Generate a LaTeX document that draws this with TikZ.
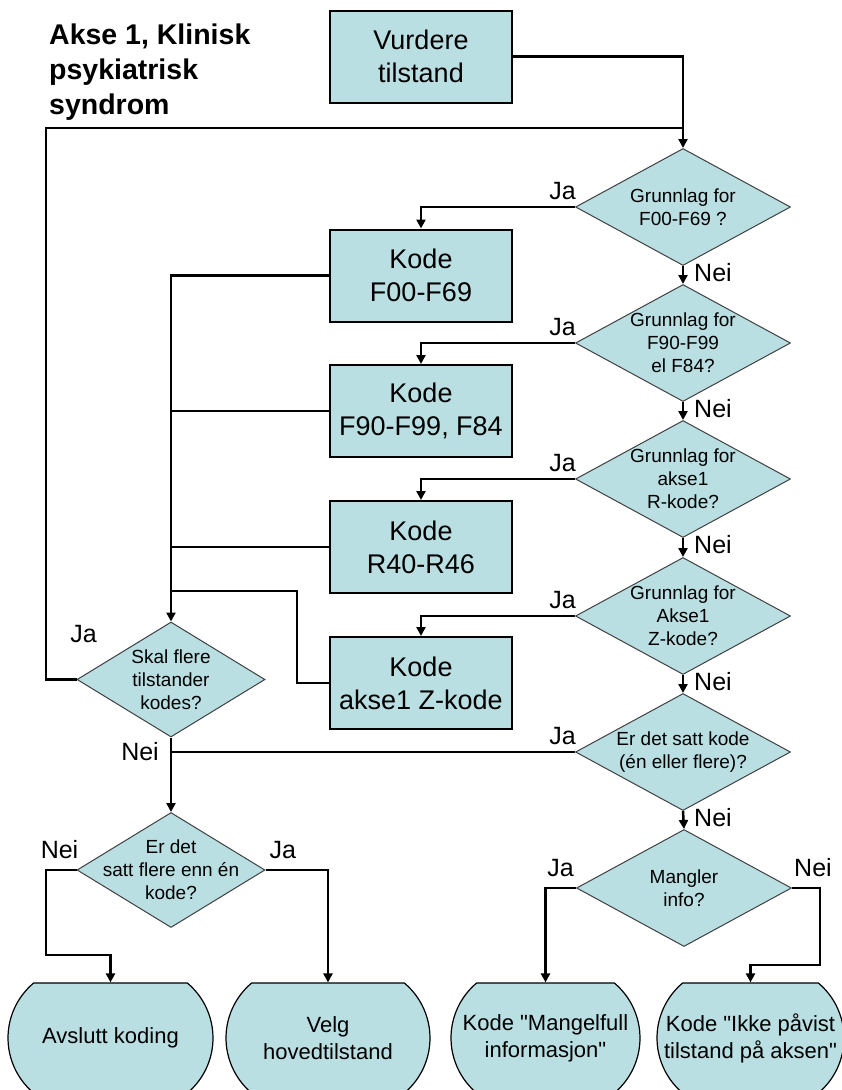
\documentclass[tikz,border=0pt]{standalone}
\usepackage{fontspec}
\setmainfont{Liberation Sans}
\usetikzlibrary{shapes.geometric,shapes.misc,arrows.meta}
\definecolor{boxfill}{RGB}{186,223,226}
\newcommand{\anf}{\XeTeXglyph\XeTeXcharglyph"22\relax}
\tikzset{
  kodebox/.style={draw, line width=2pt, fill=boxfill, minimum width=182pt, minimum height=92pt, inner sep=0pt, align=center, font=\fontsize{27}{33}\selectfont},
  sporsmaal/.style={diamond, draw=black!75, line width=1pt, fill=boxfill, minimum width=215pt, minimum height=117pt, shape aspect=1.84, inner sep=0pt, align=center, font=\fontsize{19}{23}\selectfont},
  slutt/.style={rounded rectangle, rounded rectangle arc length=100, draw, line width=1.2pt, fill=boxfill, minimum height=110pt, inner xsep=-22pt, inner ysep=0pt, align=center, font=\fontsize{22}{27}\selectfont},
  svar/.style={inner sep=2pt, font=\fontsize{25}{25}\selectfont},
  linje/.style={line width=2.5pt}
}
\begin{document}
\begin{tikzpicture}[x=1pt,y=-1pt,>={Triangle[length=9pt,width=9pt]}]
\useasboundingbox (0,0) rectangle (842,1090);
\node[anchor=north west, align=left, inner sep=2pt, font=\bfseries\fontsize{28.5}{35}\selectfont] (tittel) at (47,22) {Akse 1, Klinisk\\psykiatrisk\\syndrom};
\node[kodebox] (vurd) at (421,56.5) {Vurdere\\tilstand};
\node[kodebox] (kf00) at (421,275.5) {Kode\\F00-F69};
\node[kodebox] (kf90) at (421,411) {Kode\\F90-F99, F84};
\node[kodebox] (kr40) at (421,547) {Kode\\R40-R46};
\node[kodebox] (kz) at (421,683) {Kode\\akse1 Z-kode};
\node[sporsmaal] (d1) at (683,207) {Grunnlag for\\F00-F69 ?};
\node[sporsmaal, inner ysep=-4pt] (d2) at (683,343) {Grunnlag for\\F90-F99\\el F84?};
\node[sporsmaal, inner ysep=-4pt] (d3) at (683,479) {Grunnlag for\\akse1\\R-kode?};
\node[sporsmaal, inner ysep=-4pt] (d4) at (683,616) {Grunnlag for\\Akse1\\Z-kode?};
\node[sporsmaal] (d5) at (683,752) {Er det satt kode\\(én eller flere)?};
\node[sporsmaal] (d7) at (684,888) {Mangler\\info?};
\node[sporsmaal, minimum width=188pt, minimum height=115pt, shape aspect=1.63, inner ysep=-4pt] (dskal) at (171,679.5) {Skal flere\\tilstander\\kodes?};
\node[sporsmaal, minimum width=188pt, minimum height=115pt, shape aspect=1.63, inner xsep=-8pt, inner ysep=-12pt] (dflere) at (171,870) {Er det\\satt flere enn én\\kode?};
\node[slutt, minimum width=161pt] (t1) at (110.5,1038) {Avslutt koding};
\node[slutt, minimum width=160pt] (t2) at (328,1038) {Velg\\hovedtilstand};
\node[slutt, minimum width=145pt] (t3) at (545.5,1038) {Kode \anf Mangelfull\\informasjon\anf};
\node[slutt, minimum width=143pt] (t4) at (750.5,1038) {Kode \anf Ikke påvist\\tilstand på aksen\anf};
\coordinate (lp) at (46,128);
\coordinate (zk) at (297,591);
\coordinate (nb) at (46,955);
\coordinate (nh) at (820,965);
\draw[linje,->] (vurd.east) -| (d1.north);
\draw[linje] (dskal.west) -| (lp) -- (lp -| d1.north);
\draw[linje,->] (d1.west) -| (kf00.north);
\draw[linje,->] (d2.west) -| (kf90.north);
\draw[linje,->] (d3.west) -| (kr40.north);
\draw[linje,->] (d4.west) -| (kz.north);
\draw[linje,->] (d1.south) -- (d2.north);
\draw[linje,->] (d2.south) -- (d3.north);
\draw[linje,->] (d3.south) -- (d4.north);
\draw[linje,->] (d4.south) -- (d5.north);
\draw[linje,->] (d5.south) -- (d7.north);
\draw[linje,->] (kf00.west) -| (dskal.north);
\draw[linje] (kf90.west) -- (kf90.west -| dskal.north);
\draw[linje] (kr40.west) -- (kr40.west -| dskal.north);
\draw[linje] (kz.west) -| (zk) -- (zk -| dskal.north);
\draw[linje,->] (dskal.south) -- (dflere.north);
\draw[linje] (d5.west) -- (d5.west -| dskal.south);
\draw[linje,->] (dflere.west) -| (nb) -| (t1.north);
\draw[linje,->] (dflere.east) -| (t2.north);
\draw[linje,->] (d7.west) -| (t3.north);
\draw[linje,->] (d7.east) -| (nh) -| (t4.north);
\node[svar, anchor=south east, xshift=3pt, yshift=5pt] (ja1) at (d1.west) {Ja};
\node[svar, anchor=south east, xshift=3pt, yshift=5pt] (ja2) at (d2.west) {Ja};
\node[svar, anchor=south east, xshift=3pt, yshift=5pt] (ja3) at (d3.west) {Ja};
\node[svar, anchor=south east, xshift=3pt, yshift=5pt] (ja4) at (d4.west) {Ja};
\node[svar, anchor=south east, xshift=3pt, yshift=5pt] (ja5) at (d5.west) {Ja};
\node[svar, anchor=north west, xshift=9pt, yshift=5pt] (nei1) at (d1.south) {Nei};
\node[svar, anchor=north west, xshift=9pt, yshift=5pt] (nei2) at (d2.south) {Nei};
\node[svar, anchor=north west, xshift=9pt, yshift=5pt] (nei3) at (d3.south) {Nei};
\node[svar, anchor=north west, xshift=9pt, yshift=5pt] (nei4) at (d4.south) {Nei};
\node[svar, anchor=north west, xshift=9pt, yshift=5pt] (nei5) at (d5.south) {Nei};
\node[svar] (jaskal) at (83.5,634) {Ja};
\node[svar, anchor=east, xshift=-10pt] (neiskal) at (d5.west -| dskal.south) {Nei};
\node[svar, anchor=south east, xshift=4pt, yshift=9pt] (neiflere) at (dflere.west) {Nei};
\node[svar, anchor=south west, xshift=2pt, yshift=9pt] (jaflere) at (dflere.east) {Ja};
\node[svar, anchor=south east, yshift=9pt] (jamangler) at (d7.west) {Ja};
\node[svar, anchor=south west, yshift=9pt] (neimangler) at (d7.east) {Nei};
\end{tikzpicture}
\end{document}
